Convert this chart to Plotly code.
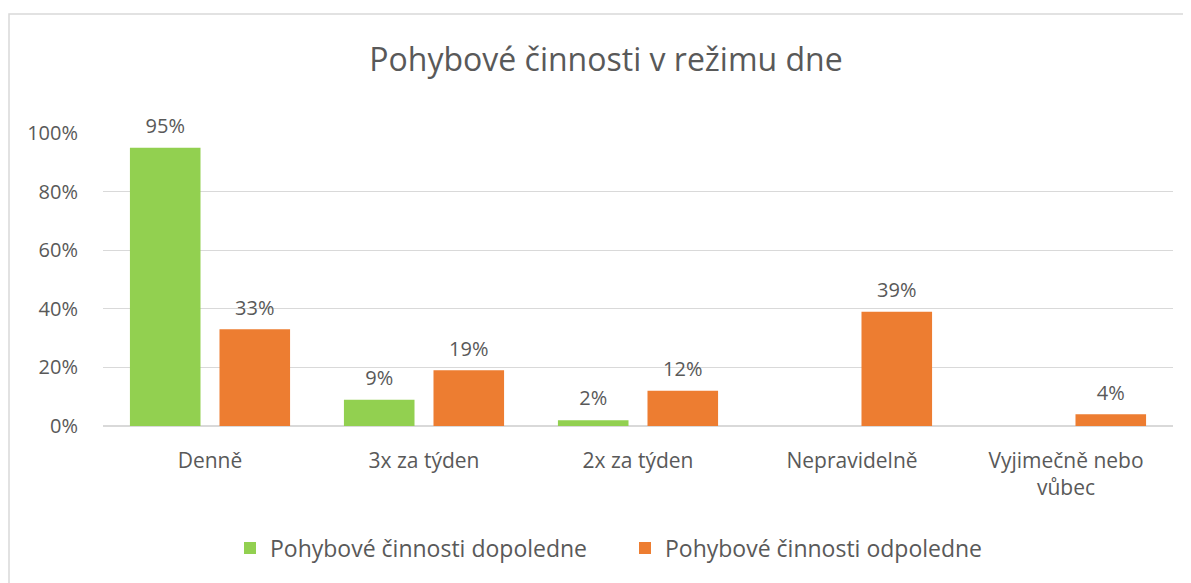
import plotly.graph_objects as go

categories = ["Denně", "3x za týden", "2x za týden", "Nepravidelně", "Vyjimečně nebo<br>vůbec"]
dopoledne = [0.95, 0.09, 0.02, None, None]
odpoledne = [0.33, 0.19, 0.12, 0.39, 0.04]
series_names = ["Pohybové činnosti dopoledne", "Pohybové činnosti odpoledne"]
tick_vals = [0, 0.2, 0.4, 0.6, 0.8, 1.0]
tick_text = ["0%", "20%", "40%", "60%", "80%", "100%"]

FONT = "Open Sans"
GREY = "#595959"
COLORS = ["#92D050", "#ED7D31"]

# page body adds an 8px offset; figure is sized so it fills the 1191x583 window
W, H = 1183, 575
ML, MR, MT, MB = 95, 18, 125, 157
PW, PH = W - ML - MR, H - MT - MB
GAP, GROUPGAP = 0.163, 0.212

def labels(vals):
    return ["" if v is None else f"{round(v*100)}%" for v in vals]

fig = go.Figure()
for name, vals, col, grp in [(series_names[0], dopoledne, COLORS[0], "a"),
                             (series_names[1], odpoledne, COLORS[1], "b")]:
    fig.add_trace(go.Bar(x=categories, y=vals, name=name, offsetgroup=grp,
                         marker=dict(color=col, line=dict(width=0))))
for vals, grp in [(dopoledne, "a"), (odpoledne, "b")]:
    fig.add_trace(go.Scatter(x=categories, y=vals, offsetgroup=grp, mode="markers+text",
                             text=labels(vals), textposition="top center",
                             marker=dict(size=14, opacity=0), showlegend=False,
                             hoverinfo="skip", cliponaxis=False,
                             textfont=dict(size=20, color=GREY, family=FONT)))

fig.update_layout(
    width=W, height=H,
    margin=dict(l=ML, r=MR, t=MT, b=MB),
    paper_bgcolor="white", plot_bgcolor="white",
    font=dict(family=FONT, color=GREY, size=20),
    title=dict(text="Pohybové činnosti v režimu dne", xref="paper", x=(598-ML)/PW, xanchor="center",
               y=1 - 52/H, yanchor="middle",
               font=dict(size=32, color=GREY, family=FONT)),
    barmode="group", bargap=GAP, bargroupgap=GROUPGAP,
    scattermode="group", scattergap=GAP,
    showlegend=True,
    legend=dict(orientation="h", x=(222-ML)/PW, xanchor="left", y=(PH-(540-MT))/PH, yanchor="middle",
                font=dict(size=23, color=GREY, family=FONT), itemwidth=30,
                traceorder="normal", entrywidth=350, entrywidthmode="pixels"),
    xaxis=dict(showgrid=False, showline=False, ticks="", tickfont=dict(size=21, color=GREY),
               ticklabelstandoff=20),
    yaxis=dict(range=[0, 1.0], tickvals=tick_vals, ticktext=tick_text,
               showgrid=True, gridcolor="#D9D9D9", gridwidth=1,
               zeroline=True, zerolinecolor="#D9D9D9", zerolinewidth=2,
               showline=False, ticks="", tickfont=dict(size=20, color=GREY),
               ticklabelstandoff=24),
    shapes=[dict(type="rect", xref="paper", yref="paper",
                 x0=(1-ML)/PW, x1=1.1, y0=-0.7, y1=(PH+MT-6)/PH,
                 line=dict(color="#D9D9D9", width=1.5), fillcolor="rgba(0,0,0,0)", layer="below")],
)

fig.write_html("out.html")
